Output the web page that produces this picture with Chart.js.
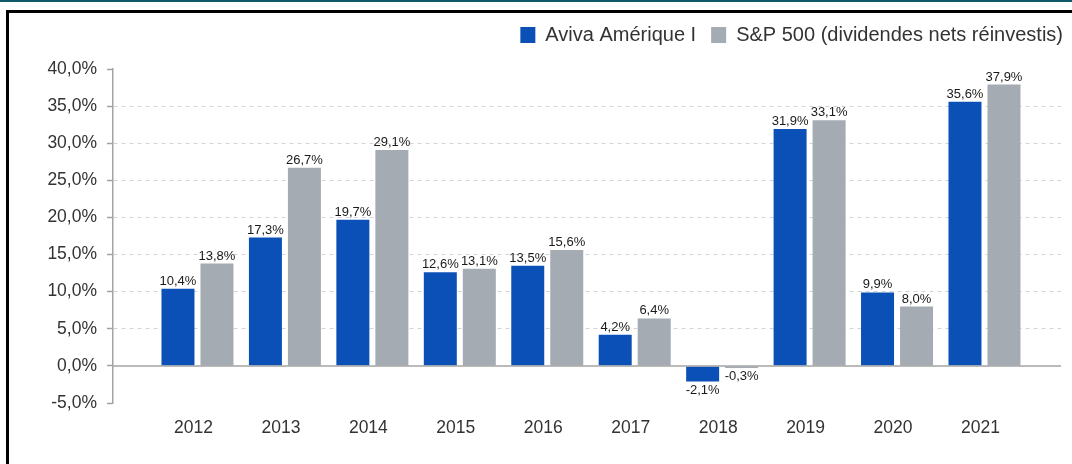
<!DOCTYPE html>
<html>
<head>
<meta charset="utf-8">
<script src="https://cdn.jsdelivr.net/npm/chart.js@4.4.1/dist/chart.umd.min.js"></script>
<style>
  html, body { margin: 0; padding: 0; background: #fff; overflow: hidden; }
  .wrap { position: relative; width: 1072px; height: 464px; overflow: hidden; }
  .topline { position: absolute; left: 0; top: 0; width: 1072px; height: 2px; background: #0f5868; }
  .frame { position: absolute; left: 6px; top: 10px; width: 1200px; height: 600px; border: 3px solid #000; }
  canvas { position: absolute; left: 0; top: 0; }
</style>
</head>
<body>
<div class="wrap">
  <div class="topline"></div>
  <div class="frame"></div>
  <canvas id="chart" width="1072" height="464"></canvas>
</div>
<script>
// données
const years = [2012, 2013, 2014, 2015, 2016, 2017, 2018, 2019, 2020, 2021];
const aviva = [10.4, 17.3, 19.7, 12.6, 13.5, 4.2, -2.1, 31.9, 9.9, 35.6];
const sp500 = [13.8, 26.7, 29.1, 13.1, 15.6, 6.4, -0.3, 33.1, 8.0, 37.9];
const yTicks = [-5, 0, 5, 10, 15, 20, 25, 30, 35, 40];
const seriesNames = ['Aviva Amérique I', 'S&P 500 (dividendes nets réinvestis)'];

const FONT = "'Liberation Sans', Arial, sans-serif";
const fmt = v => v.toFixed(1).replace('.', ',') + '%';

// étiquettes de valeur au-dessus / sous les barres
const valueLabels = {
  id: 'valueLabels',
  afterDatasetsDraw(chart) {
    const ctx = chart.ctx;
    ctx.save();
    ctx.font = '13px ' + FONT;
    ctx.fillStyle = '#1a1a1a';
    ctx.textAlign = 'center';
    chart.data.datasets.forEach((ds, i) => {
      chart.getDatasetMeta(i).data.forEach((bar, j) => {
        const v = ds.data[j].y;
        if (v >= 0) {
          ctx.textBaseline = 'bottom';
          ctx.fillText(fmt(v), bar.x, bar.y - 1);
        } else {
          ctx.textBaseline = 'top';
          ctx.fillText(fmt(v), bar.x, bar.y + 2);
        }
      });
    });
    ctx.restore();
  }
};

// ligne du zéro, pleine
const zeroLine = {
  id: 'zeroLine',
  afterDatasetsDraw(chart) {
    const { ctx, chartArea, scales } = chart;
    const y = scales.y.getPixelForValue(0);
    ctx.save();
    ctx.strokeStyle = '#a3a3a3';
    ctx.lineWidth = 1.5;
    ctx.beginPath();
    ctx.moveTo(chartArea.left, y);
    ctx.lineTo(chartArea.right, y);
    ctx.stroke();
    ctx.restore();
  }
};

new Chart(document.getElementById('chart'), {
  type: 'bar',
  data: {
    datasets: [
      {
        label: seriesNames[0],
        data: years.map((x, i) => ({ x, y: aviva[i] })),
        backgroundColor: '#0a50b6'
      },
      {
        label: seriesNames[1],
        data: years.map((x, i) => ({ x, y: sp500[i] })),
        backgroundColor: '#a4abb2'
      }
    ]
  },
  options: {
    responsive: false,
    animation: false,
    categoryPercentage: 0.892,
    barPercentage: 0.846,
    layout: { padding: { top: 10, right: -6, bottom: 10, left: 0 } },
    plugins: {
      tooltip: { enabled: false },
      legend: {
        position: 'top',
        align: 'end',
        labels: {
          boxWidth: 15,
          boxHeight: 16,
          padding: 15,
          color: '#333',
          font: { family: FONT, size: 20 }
        }
      },
      // espace vide entre la légende et le graphique
      title: {
        display: true,
        text: '',
        weight: 500,
        font: { size: 10 },
        padding: { top: 0, bottom: 2 }
      }
    },
    scales: {
      x: {
        type: 'linear',
        offset: false,
        min: 2011.034,
        max: 2021.875,
        grid: { display: false, drawTicks: false },
        border: { display: false },
        afterBuildTicks: s => { s.ticks = years.map(v => ({ value: v })); },
        ticks: {
          padding: 15,
          labelOffset: -4,
          color: '#333',
          font: { family: FONT, size: 17.5 },
          callback: v => String(v)
        }
      },
      y: {
        min: -5,
        max: 40,
        afterFit: s => { s.width = 113; },
        afterBuildTicks: s => { s.ticks = yTicks.map(v => ({ value: v })); },
        grid: {
          color: c => (c.tick && c.tick.value > 0 && c.tick.value < 40) ? '#d4d4d4' : 'rgba(0,0,0,0)',
          tickColor: '#a3a3a3',
          tickLength: 6,
          tickWidth: 1.5,
          tickBorderDash: []
        },
        border: { display: true, color: '#a3a3a3', width: 1.5, dash: [4, 4] },
        ticks: {
          padding: 10,
          color: '#333',
          font: { family: FONT, size: 17.5 },
          callback: v => fmt(v)
        }
      },
      // marge droite invisible (la légende va jusqu'au bord)
      yRight: {
        position: 'right',
        display: true,
        afterFit: s => { s.width = 17; },
        grid: { display: false, drawTicks: false },
        border: { display: false },
        ticks: { display: false }
      }
    }
  },
  plugins: [valueLabels, zeroLine]
});
</script>
</body>
</html>
